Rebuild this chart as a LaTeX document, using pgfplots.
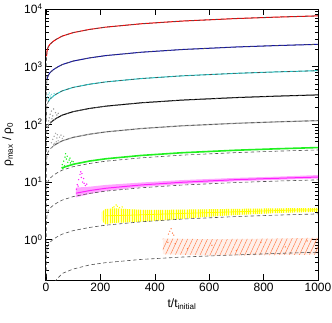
\documentclass[border=0pt]{standalone}
\usepackage{fontspec}
\setmainfont{Liberation Sans}
\usepackage{pgfplots}
\pgfplotsset{compat=1.18}
\usetikzlibrary{patterns.meta}
\definecolor{dashc}{HTML}{505050}
\definecolor{cyand}{HTML}{20C8C8}
\definecolor{blued}{HTML}{1010B0}
\definecolor{grayd}{HTML}{A8A8A8}
\definecolor{limeg}{HTML}{20F020}
\definecolor{magd}{HTML}{FF20FF}
\definecolor{yel}{HTML}{FFFF00}
\definecolor{coral}{HTML}{FF6A30}
\tikzset{dsh/.style={color=dashc, dash pattern=on 3.5pt off 2.5pt, line width=0.6pt}}
\begin{document}
\begin{tikzpicture}
\useasboundingbox (-46pt,-42pt) rectangle (286pt,280pt);
\begin{axis}[
  at={(0,0)}, anchor=south west,
  scale only axis, width=272pt, height=271pt,
  ymode=log, xmin=0, xmax=1000, ymin=0.2, ymax=10000,
  xtick={0,200,400,600,800,1000}, xticklabels={0,200,400,600,800,1000},
  ytick={1,10,100,1000,10000},
  yticklabels={10\textsuperscript{0},10\textsuperscript{1},10\textsuperscript{2},10\textsuperscript{3},10\textsuperscript{4}},
  minor ytick={0.2,0.3,0.4,0.5,0.6,0.7,0.8,0.9,2,3,4,5,6,7,8,9,20,30,40,50,60,70,80,90,200,300,400,500,600,700,800,900,2000,3000,4000,5000,6000,7000,8000,9000},
  tick align=inside, major tick length=6pt, minor tick length=3pt,
  axis line style={line width=1pt}, tick style={black, line width=0.6pt},
  ticklabel style={font=\fontsize{12}{14}\selectfont},
  label style={font=\fontsize{12}{14}\selectfont},
  xlabel={t/t\textsubscript{initial}},
  ylabel={ρ\textsubscript{max} / ρ\textsubscript{0}},
  ylabel style={at={(axis description cs:-0.14,0.5)}, anchor=center},
  every axis plot/.append style={no marks},
]
% ---- orange band (slanted strokes)
\addplot[fill=coral, draw=none, opacity=0.10] coordinates {(430,1.05)(600,1.02)(800,1.04)(1000,1.08)(1000,0.55)(800,0.54)(600,0.53)(430,0.56)};
\addplot[draw=none, pattern={Lines[angle=65, distance=4.5pt, line width=0.5pt]}, pattern color=coral!85] coordinates {(430,1.05)(600,1.02)(800,1.04)(1000,1.08)(1000,0.55)(800,0.54)(600,0.53)(430,0.56)};
\addplot[only marks, mark=*, mark size=0.45pt, coral, opacity=0.7] coordinates {(450,1.25)(455,1.4)(460,1.55)(465,1.3)(470,1.2)(448,0.9)(475,0.85)(520,0.7)(610,0.8)(700,0.65)(790,0.9)(880,0.75)(960,0.95)};
% ---- yellow band (speckled vertical strokes)
\addplot[fill=yel, draw=none, opacity=0.25] coordinates {(205,3.0)(217,3.4)(250,3.5)(300,3.4)(350,3.3)(450,3.3)(550,3.35)(650,3.4)(750,3.45)(850,3.5)(1000,3.55)(1000,3.05)(850,2.9)(750,2.75)(650,2.6)(550,2.4)(450,2.2)(350,2.05)(300,2.0)(250,1.95)(217,1.85)(205,2.2)};
\addplot[draw=none, pattern={Lines[angle=90, distance=2.2pt, line width=0.7pt]}, pattern color=yel] coordinates {(205,3.0)(217,3.4)(250,3.5)(300,3.4)(350,3.3)(450,3.3)(550,3.35)(650,3.4)(750,3.45)(850,3.5)(1000,3.55)(1000,3.05)(850,2.9)(750,2.75)(650,2.6)(550,2.4)(450,2.2)(350,2.05)(300,2.0)(250,1.95)(217,1.85)(205,2.2)};
\addplot[yel, line width=0.8pt] coordinates {(217,2.6)(300,2.65)(400,2.75)(500,2.85)(600,2.95)(700,3.05)(800,3.15)(900,3.25)(1000,3.3)};
\addplot[only marks, mark=*, mark size=0.45pt, yel] coordinates {(245,3.6)(250,3.7)(258,4.0)(262,3.8)(270,3.6)(280,3.7)};
% ---- magenta band
\addplot[fill=magd, draw=none, opacity=0.4] coordinates {(110,8.0)(160,8.3)(220,8.9)(350,9.8)(500,10.8)(700,11.8)(850,12.4)(1000,13.2)(1000,11.5)(850,10.9)(700,10.3)(500,9.2)(350,8.2)(220,7.0)(160,6.2)(110,5.4)};
\addplot[magd, line width=1pt] coordinates {(110,6.4)(160,7.1)(220,7.8)(350,8.9)(500,9.9)(700,11.0)(850,11.6)(1000,12.2)};
\addplot[only marks, mark=*, mark size=0.45pt, magd] coordinates {(112,7.5)(115,9)(118,8.5)(120,11)(125,13.5)(128,15)(130,12)(132,14)(135,10)(138,11.5)(140,9.5)(145,8.7)(150,9.2)};
% ---- green
\addplot[limeg, line width=1.6pt] coordinates {(58,17.3)(60,17.7)(100,20.3)(160,23.1)(220,25.3)(350,28.9)(500,32.2)(700,35.6)(850,37.7)(1000,39.6)};
\addplot[only marks, mark=*, mark size=0.45pt, limeg] coordinates {(60,20)(62,17)(65,23)(68,19)(70,27)(72,31)(75,25)(78,28)(80,22)(85,24)(88,26)(90,21.5)(95,23)(100,22.5)};
% ---- gray
\addplot[grayd, line width=1.2pt] coordinates {(27,42.1)(40,46.2)(60,51.8)(100,59.5)(160,67.5)(220,74.0)(350,84.6)(500,94.3)(700,104.3)(850,110.5)(1000,116)};
\addplot[only marks, mark=*, mark size=0.45pt, grayd] coordinates {(20,48)(22,40)(25,55)(28,45)(30,62)(33,47)(35,70)(38,50)(40,58)(42,66)(45,52)(50,60)(55,65)(60,57)(65,62)};
% ---- black
\addplot[black, line width=1pt] coordinates {(15,104.8)(27,117.6)(40,129.0)(60,144.7)(100,166.2)(160,188.6)(220,206.8)(350,236.4)(500,263.3)(700,291.4)(850,308.7)(1000,324)};
\addplot[only marks, mark=*, mark size=0.45pt, black!40] coordinates {(6,90)(8,100)(10,115)(12,130)(15,150)(18,110)(20,170)(22,125)(25,140)(28,185)(30,120)(35,160)(40,145)(45,155)};
% ---- cyan
\addplot[cyand, line width=1pt] coordinates {(8,246.0)(15,276.0)(27,309.7)(40,339.6)(60,381.0)(100,437.5)(160,496.5)(220,544.5)(350,622.3)(500,693.3)(700,767.3)(850,812.7)(1000,853)};
\addplot[only marks, mark=*, mark size=0.45pt, cyand!60] coordinates {(5,300)(8,330)(10,280)(12,350)(15,310)(18,290)(20,330)(25,300)(30,340)};
% ---- blue
\addplot[blued, line width=1pt] coordinates {(4,613)(8,704)(15,790)(27,886)(40,971)(60,1090)(100,1251)(160,1420)(220,1557)(350,1780)(500,1983)(700,2195)(850,2325)(1000,2440)};
% ---- red
\addplot[red, line width=1pt] coordinates {(2,1516)(4,1909)(8,2192)(15,2459)(27,2760)(40,3026)(60,3395)(100,3898)(160,4424)(220,4851)(350,5544)(500,6177)(700,6836)(850,7241)(1000,7600)};
% ---- dashed model curves
\addplot[dsh] coordinates {(0.3,381)(1,957)(2,1516)(4,1909)(8,2192)(15,2459)(27,2760)(40,3026)(60,3395)(100,3898)(160,4424)(220,4851)(350,5544)(500,6177)(700,6836)(850,7241)(1000,7600)};
\addplot[dsh] coordinates {(0.3,122)(1,307)(2,487)(4,613)(8,704)(15,790)(27,886)(40,971)(60,1090)(100,1251)(160,1420)(220,1557)(350,1780)(500,1983)(700,2195)(850,2325)(1000,2440)};
\addplot[dsh] coordinates {(0.3,42.7)(1,107.4)(2,170.2)(4,214.3)(8,246.0)(15,276.0)(27,309.7)(40,339.6)(60,381.0)(100,437.5)(160,496.5)(220,544.5)(350,622.3)(500,693.3)(700,767.3)(850,812.7)(1000,853)};
\addplot[dsh] coordinates {(0.3,16.2)(1,40.8)(2,64.6)(4,81.4)(8,93.4)(15,104.8)(27,117.6)(40,129.0)(60,144.7)(100,166.2)(160,188.6)(220,206.8)(350,236.4)(500,263.3)(700,291.4)(850,308.7)(1000,324)};
\addplot[dsh] coordinates {(0.3,5.81)(1,14.6)(2,23.1)(4,29.1)(8,33.5)(15,37.5)(27,42.1)(40,46.2)(60,51.8)(100,59.5)(160,67.5)(220,74.0)(350,84.6)(500,94.3)(700,104.3)(850,110.5)(1000,116)};
\addplot[dsh] coordinates {(0.3,1.80)(1,4.53)(2,7.18)(4,9.04)(8,10.38)(15,11.65)(27,13.07)(40,14.33)(60,16.08)(100,18.46)(160,20.96)(220,22.98)(350,26.26)(500,29.26)(700,32.38)(850,34.30)(1000,36.0)};
\addplot[dsh] coordinates {(0.3,0.546)(1,1.372)(2,2.175)(4,2.738)(8,3.144)(15,3.527)(27,3.958)(40,4.339)(60,4.869)(100,5.591)(160,6.345)(220,6.957)(350,7.952)(500,8.860)(700,9.805)(850,10.39)(1000,10.9)};
\addplot[dsh] coordinates {(0.3,0.140)(1,0.353)(2,0.559)(4,0.703)(8,0.808)(15,0.906)(27,1.017)(40,1.115)(60,1.251)(100,1.436)(160,1.630)(220,1.787)(350,2.043)(500,2.276)(700,2.519)(850,2.668)(1000,2.80)};
\addplot[dsh] coordinates {(20,0.15)(39,0.205)(60,0.26)(100,0.31)(160,0.365)(220,0.40)(350,0.455)(500,0.50)(700,0.545)(850,0.578)(1000,0.607)};
\end{axis}
\end{tikzpicture}
\end{document}
